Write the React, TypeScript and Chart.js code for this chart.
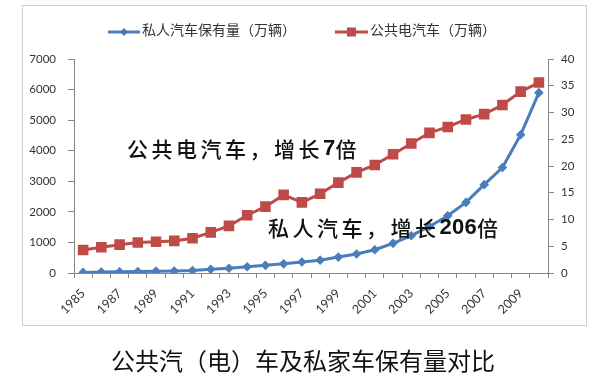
import React, { useEffect, useRef } from 'react';
import { Chart, registerables } from 'chart.js';

Chart.register(...registerables);

const years = ['1985','1986','1987','1988','1989','1990','1991','1992','1993','1994','1995','1996','1997','1998','1999','2000','2001','2002','2003','2004','2005','2006','2007','2008','2009','2010'];
const privateCars = [20, 35, 40, 45, 60, 65, 80, 120, 155, 205, 250, 300, 360, 420, 520, 620, 760, 970, 1220, 1520, 1870, 2310, 2890, 3450, 4520, 5900];
const publicBuses = [4.3, 4.8, 5.3, 5.7, 5.85, 6.0, 6.5, 7.6, 8.8, 10.8, 12.4, 14.6, 13.2, 14.8, 16.9, 18.8, 20.2, 22.2, 24.2, 26.2, 27.3, 28.7, 29.7, 31.4, 33.9, 35.6];
const seriesNames = ['私人汽车保有量（万辆）', '公共电汽车（万辆）'];
const chartTitle = '公共汽（电）车及私家车保有量对比';
const note1 = [{ t: '公共电汽车，增长', cjk: true }, { t: '7', cjk: false }, { t: '倍', cjk: true }];
const note2 = [{ t: '私人汽车，增长', cjk: true }, { t: '206', cjk: false }, { t: '倍', cjk: true }];

const BLUE = '#4A7EBB';
const RED = '#BE4B48';
const AXIS = '#868686';
const TICK_FONT = { family: 'Lato, "Noto Sans", sans-serif', size: 11.5 };

function drawRich(ctx: CanvasRenderingContext2D, x: number, y: number, parts: { t: string; cjk: boolean }[]) {
  ctx.save();
  ctx.textBaseline = 'middle';
  ctx.textAlign = 'left';
  ctx.fillStyle = '#111';
  for (const p of parts) {
    ctx.font = p.cjk ? '500 21px "Noto Sans CJK SC"' : 'bold 22px "Liberation Sans"';
    const sp = p.cjk ? 3.5 : 0.3;
    for (const ch of Array.from(p.t)) {
      ctx.fillText(ch, x, y);
      x += ctx.measureText(ch).width + sp;
    }
  }
  ctx.restore();
}

const decor = {
  id: 'decor',
  beforeDraw(chart: any) {
    const ctx = chart.ctx as CanvasRenderingContext2D;
    ctx.save();
    ctx.fillStyle = '#ffffff';
    ctx.fillRect(0, 0, chart.width, chart.height);
    ctx.strokeStyle = '#c9d2db';
    ctx.lineWidth = 1;
    ctx.strokeRect(22.5, 5.5, 564, 320);
    ctx.restore();
  },
  afterDraw(chart: any) {
    const ctx = chart.ctx as CanvasRenderingContext2D;
    ctx.save();
    // legend
    ctx.lineWidth = 3;
    ctx.strokeStyle = BLUE;
    ctx.beginPath(); ctx.moveTo(108, 32); ctx.lineTo(140, 32); ctx.stroke();
    ctx.fillStyle = BLUE;
    ctx.beginPath(); ctx.moveTo(124, 28); ctx.lineTo(128, 32); ctx.lineTo(124, 36); ctx.lineTo(120, 32); ctx.closePath(); ctx.fill();
    ctx.strokeStyle = RED;
    ctx.beginPath(); ctx.moveTo(335, 32); ctx.lineTo(368, 32); ctx.stroke();
    ctx.fillStyle = RED;
    ctx.fillRect(347, 27.5, 9, 9);
    ctx.fillStyle = '#333';
    ctx.font = '14px "Noto Sans CJK SC"';
    ctx.textBaseline = 'middle';
    ctx.textAlign = 'left';
    ctx.fillText(seriesNames[0], 142, 30);
    ctx.fillText(seriesNames[1], 370, 30);
    // title
    ctx.fillStyle = '#111';
    ctx.font = '24px "Noto Sans CJK SC"';
    ctx.textAlign = 'center';
    ctx.fillText(chartTitle, 303, 361);
    ctx.restore();
  },
  afterDatasetsDraw(chart: any) {
    const ctx = chart.ctx as CanvasRenderingContext2D;
    drawRich(ctx, 127, 149, note1);
    drawRich(ctx, 268, 228, note2);
  },
};

export default function App() {
  const ref = useRef<HTMLCanvasElement | null>(null);
  useEffect(() => {
    if (!ref.current) return;
    const chart = new Chart(ref.current, {
      type: 'line',
      data: {
        labels: years,
        datasets: [
          {
            label: seriesNames[0],
            data: privateCars,
            yAxisID: 'y',
            borderColor: BLUE,
            backgroundColor: BLUE,
            borderWidth: 3,
            pointStyle: 'rectRot',
            pointRadius: 4.8,
            pointBorderWidth: 0,
            tension: 0,
            order: 1,
          },
          {
            label: seriesNames[1],
            data: publicBuses,
            yAxisID: 'y1',
            borderColor: RED,
            backgroundColor: RED,
            borderWidth: 3,
            pointStyle: 'rect',
            pointRadius: 7.5,
            pointBorderWidth: 0,
            tension: 0,
            order: 2,
          },
        ],
      },
      options: {
        animation: false,
        responsive: false,
        devicePixelRatio: 1,
        layout: { padding: { top: 59, left: 20, right: 10, bottom: 60 } },
        plugins: { legend: { display: false }, title: { display: false }, tooltip: { enabled: false } },
        scales: {
          x: {
            type: 'category',
            offset: true,
            grid: { offset: true, drawOnChartArea: false, drawTicks: true, tickLength: 5, color: AXIS },
            border: { display: true, color: AXIS },
            ticks: {
              autoSkip: false,
              maxRotation: 45,
              minRotation: 45,
              padding: 8,
              font: { ...TICK_FONT, size: 12.5 },
              color: '#333',
              callback: (_v: any, i: number) => (i % 2 === 0 ? years[i] : ''),
            },
            afterFit: (s: any) => { s.height = 50; s.paddingLeft = 0; s.paddingRight = 0; },
          },
          y: {
            position: 'left',
            min: 0,
            max: 7000,
            grid: { drawOnChartArea: false, drawTicks: true, tickLength: 6, color: AXIS },
            border: { display: true, color: AXIS },
            ticks: { stepSize: 1000, padding: 12, font: TICK_FONT, color: '#333', callback: (v: any) => String(v) },
            afterFit: (s: any) => { s.width = 54; s.paddingTop = 0; s.paddingBottom = 0; },
          },
          y1: {
            position: 'right',
            min: 0,
            max: 40,
            grid: { drawOnChartArea: false, drawTicks: true, tickLength: 6, color: AXIS },
            border: { display: true, color: AXIS },
            ticks: { stepSize: 5, padding: 7, font: TICK_FONT, color: '#333', callback: (v: any) => String(v) },
            afterFit: (s: any) => { s.width = 36; s.paddingTop = 0; s.paddingBottom = 0; },
          },
        },
      },
      plugins: [decor],
    });
    return () => chart.destroy();
  }, []);
  return (
    <div style={{ position: 'fixed', left: 0, top: 0, width: 594, height: 383, background: '#fff' }}>
      <canvas ref={ref} width={594} height={383} style={{ display: 'block' }} />
    </div>
  );
}
